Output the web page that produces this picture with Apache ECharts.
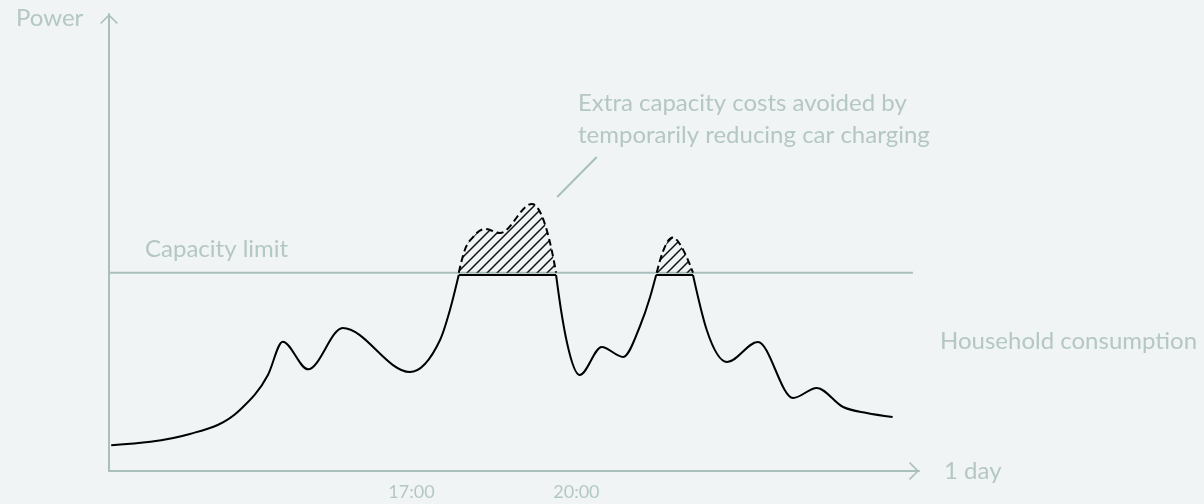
<!DOCTYPE html>
<html>
<head>
<meta charset="utf-8">
<script src="https://cdn.jsdelivr.net/npm/echarts@6/dist/echarts.min.js"></script>
<style>
html,body{margin:0;padding:0;background:#f0f4f5;}
#chart{width:1204px;height:504px;}
</style>
</head>
<body>
<div id="chart"></div>
<script>
// x = hour of day, y = power (arbitrary units)
const tickHours = [17, 20];
const capacityLimit = 43.39;
const capacityLine = [[11.5, 43.39], [26.12, 43.39]];
const consumptionRise = [[11.54,5.62],[12.97,8.10],[13.88,13.35],[14.39,21.01],[14.66,28.29],[15.12,22.25],[15.75,31.29],[16.97,21.66],[17.52,28.67],[17.70,35.23],[17.86,42.89]];
const consumptionCap1 = [[17.86,42.89],[19.63,42.89]];
const consumptionMid = [[19.63,42.89],[19.72,35.23],[19.83,28.01],[20.06,21.01],[20.46,27.13],[20.85,24.95],[21.15,31.51],[21.34,38.07],[21.45,42.89]];
const consumptionCap2 = [[21.45,42.89],[22.12,42.89]];
const consumptionFall = [[22.12,42.89],[22.37,30.85],[22.74,23.85],[23.30,28.23],[23.94,15.97],[24.37,18.16],[24.85,14.00],[25.28,12.69],[25.75,11.82]];
const excessPeak1 = [[17.86,43.39],[17.97,48.36],[18.12,51.20],[18.34,52.95],[18.61,52.08],[19.19,58.42],[19.46,52.74],[19.55,48.36],[19.63,43.39]];
const excessPeak2 = [[21.46,43.39],[21.57,47.92],[21.75,51.09],[21.97,47.70],[22.12,43.39]];
const leaderExtra = [[19.65,59.96],[20.37,68.71]];
const leaderHousehold = [[26.03,14.66],[26.75,23.41]];

const AXIS = '#a9bfbc';
const TEXT = '#b4c7c3';
const FONT = 'Lato';

const hatch = document.createElement('canvas');
hatch.width = 10; hatch.height = 10;
(function(){
  const c = hatch.getContext('2d');
  c.strokeStyle = '#111';
  c.lineWidth = 1.5;
  c.beginPath();
  c.moveTo(0,10); c.lineTo(10,0);
  c.moveTo(-2,2); c.lineTo(2,-2);
  c.moveTo(8,12); c.lineTo(12,8);
  c.stroke();
})();

const chevron = 'path://M9 0 L18 9 L16.9 10.1 L9 2.2 L1.1 10.1 L0 9 Z';

// monotone cubic (Steffen) path through pixel points
function monotonePath(p) {
  const n = p.length, h = [], s = [], m = [];
  for (let i = 0; i < n - 1; i++) {
    h[i] = p[i+1][0] - p[i][0];
    s[i] = (p[i+1][1] - p[i][1]) / h[i];
  }
  for (let i = 1; i < n - 1; i++) {
    const pp = (s[i-1]*h[i] + s[i]*h[i-1]) / (h[i-1] + h[i]);
    m[i] = (Math.sign(s[i-1]) + Math.sign(s[i])) * Math.min(Math.abs(s[i-1]), Math.abs(s[i]), 0.5*Math.abs(pp)) || 0;
  }
  if (n > 2) {
    m[0] = (3*s[0] - m[1]) / 2;
    m[n-1] = (3*s[n-2] - m[n-2]) / 2;
  } else {
    m[0] = s[0]; m[1] = s[0];
  }
  let d = 'M' + p[0][0] + ' ' + p[0][1];
  for (let i = 0; i < n - 1; i++) {
    const dx = h[i] / 3;
    d += ' C' + (p[i][0]+dx) + ' ' + (p[i][1]+m[i]*dx) + ' ' +
         (p[i+1][0]-dx) + ' ' + (p[i+1][1]-m[i+1]*dx) + ' ' +
         p[i+1][0] + ' ' + p[i+1][1];
  }
  return d;
}

function curve(points, dashed, fillToCapacity, z) {
  return {
    type:'custom', coordinateSystem:'cartesian2d', data:points, encode:{x:0, y:1},
    silent:true, z:z, clip:false,
    renderItem:function(params, api) {
      if (params.dataIndex !== 0) return null;
      const px = points.map(pt => api.coord(pt));
      const d = monotonePath(px);
      const children = [];
      if (fillToCapacity) {
        const yc = api.coord([points[0][0], capacityLimit])[1];
        children.push({type:'path', shape:{pathData: d + ' L' + px[px.length-1][0] + ' ' + yc + ' L' + px[0][0] + ' ' + yc + ' Z'},
          style:{fill:{image:hatch, repeat:'repeat'}, stroke:null}});
      }
      children.push({type:'path', shape:{pathData:d},
        style:{fill:null, stroke:'#000', lineWidth:2, lineDash: dashed ? [7,4] : null, lineCap:'butt', lineJoin:'round'}});
      return {type:'group', children};
    }
  };
}

const chart = echarts.init(document.getElementById('chart'));
chart.setOption({
  animation:false,
  backgroundColor:'#f0f4f5',
  grid:{left:109, right:285, top:14, bottom:33},
  xAxis:{type:'value', min:11.5, max:26.23,
    axisLine:{show:true, lineStyle:{color:AXIS, width:2}, symbol:['none', chevron], symbolSize:[18,10], symbolOffset:[0,-5]},
    axisTick:{show:false}, splitLine:{show:false},
    axisLabel:{customValues:tickHours, formatter:v=>v+':00', color:TEXT, fontFamily:FONT, fontSize:18, margin:12},
    name:'1 day', nameLocation:'end', nameGap:25, nameTextStyle:{color:TEXT, fontFamily:FONT, fontSize:24}
  },
  yAxis:{type:'value', min:0, max:100,
    axisLine:{show:true, lineStyle:{color:AXIS, width:2}, symbol:['none', chevron], symbolSize:[18,10], symbolOffset:[0,-5]},
    axisTick:{show:false}, splitLine:{show:false}, axisLabel:{show:false}
  },
  graphic:[
    {type:'text', left:16, top:6, style:{text:'Power', fill:TEXT, font:'24px '+FONT}},
    {type:'text', left:145, top:237, style:{text:'Capacity limit', fill:TEXT, font:'24px '+FONT}},
    {type:'text', left:578, top:91, style:{text:'Extra capacity costs avoided by', fill:TEXT, font:'24px '+FONT}},
    {type:'text', left:578, top:123, style:{text:'temporarily reducing car charging', fill:TEXT, font:'24px '+FONT}},
    {type:'text', left:940, top:329, style:{text:'Household consumption', fill:TEXT, font:'24px '+FONT}}
  ],
  series:[
    {type:'line', data:capacityLine, symbol:'none', silent:true, z:2, clip:false,
      lineStyle:{color:AXIS, width:2},
      markLine:{silent:true, symbol:'none', label:{show:false}, lineStyle:{color:AXIS, width:2, type:'solid'},
        data:[[{coord:leaderExtra[0]},{coord:leaderExtra[1]}],[{coord:leaderHousehold[0]},{coord:leaderHousehold[1]}]]}},
    curve(excessPeak1, true, true, 4),
    curve(excessPeak2, true, true, 4),
    curve(consumptionRise, false, false, 5),
    curve(consumptionCap1, false, false, 5),
    curve(consumptionMid, false, false, 5),
    curve(consumptionCap2, false, false, 5),
    curve(consumptionFall, false, false, 5)
  ]
});
</script>
</body>
</html>
